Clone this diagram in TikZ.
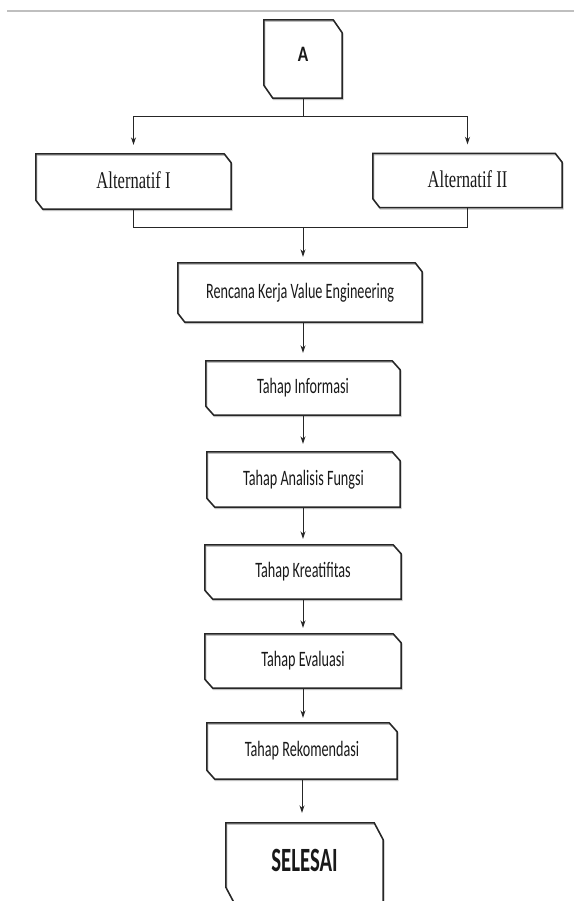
\documentclass[tikz,border=0pt]{standalone}
\usepackage{graphicx}
\usepackage{fontspec}
\setmainfont{Liberation Serif}
\newfontfamily\carlito{Carlito}
\usetikzlibrary{arrows.meta}
% outline of a box with the top-right and bottom-left corners snipped
\newcommand\snipshape[4]{%
  \draw[#4] (#1.north west) -- ([xshift=-#2]#1.north east) -- ([yshift=-#3]#1.north east)
    -- (#1.south east) -- ([xshift=#2]#1.south west) -- ([yshift=#3]#1.south west) -- cycle;}
\newcommand\snipbox[3]{%
  \snipshape{#1}{#2}{#3}{shadowline}%
  \snipshape{#1}{#2}{#3}{outline}}
\begin{document}
\begin{tikzpicture}[x=1pt,y=-1pt,
  box/.style={rectangle, inner sep=0pt, text=black!90},
  stagebox/.style={box, node font=\carlito\fontsize{22}{26}\selectfont},
  altbox/.style={box, node font=\fontsize{24}{28}\selectfont},
  conn/.style={line width=0.9pt, black!85},
  arr/.style={conn, -{Stealth[length=7.5pt,width=5pt]}},
  outline/.style={line width=1.5pt, black!85, line join=miter},
  shadowline/.style={line width=1.4pt, gray!50, transform canvas={xshift=0.8pt,yshift=-1.3pt}},
]
\useasboundingbox (0,0) rectangle (574,901);
\clip (0,0) rectangle (574,901);

\draw[gray!50, line width=1.5pt] (7,11) -- (574,11);

% nodes
\node[box, minimum width=78pt, minimum height=78pt, node font=\carlito\bfseries\fontsize{22}{24}\selectfont]
  (A) at (303,59) {\raisebox{10pt}{\scalebox{0.78}[1]{A}}};
\node[altbox, minimum width=195pt, minimum height=55pt] (alt1) at (133.5,181.5)
  {\raisebox{3pt}{\scalebox{0.69}[1]{Alternatif I}}};
\node[altbox, minimum width=189pt, minimum height=54pt] (alt2) at (467.5,180.5)
  {\raisebox{3pt}{\scalebox{0.69}[1]{Alternatif II}}};
\node[stagebox, minimum width=244pt, minimum height=59pt] (ren) at (300,292.5)
  {\raisebox{2pt}{\scalebox{0.645}[1]{Rencana Kerja Value Engineering}}};
\node[stagebox, minimum width=194pt, minimum height=54pt] (inf) at (303,388)
  {\scalebox{0.645}[1]{Tahap Informasi}};
\node[stagebox, minimum width=193pt, minimum height=55pt] (ana) at (303.5,479.5)
  {\scalebox{0.645}[1]{Tahap Analisis Fungsi}};
\node[stagebox, minimum width=196pt, minimum height=54pt] (kre) at (303,572)
  {\scalebox{0.645}[1]{Tahap Kreatifitas}};
\node[stagebox, minimum width=196pt, minimum height=54pt] (eva) at (303,661)
  {\scalebox{0.645}[1]{Tahap Evaluasi}};
\node[stagebox, minimum width=190pt, minimum height=56pt] (rek) at (302,751)
  {\scalebox{0.645}[1]{Tahap Rekomendasi}};
\node[box, minimum width=157pt, minimum height=81pt, node font=\carlito\bfseries\fontsize{34}{38}\selectfont]
  (sel) at (304.5,863.5) {\raisebox{6pt}{\scalebox{0.61}[1]{SELESAI}}};

% outlines
\snipbox{A}{9pt}{13pt}
\snipbox{alt1}{7pt}{9pt}
\snipbox{alt2}{7pt}{9pt}
\snipbox{ren}{7pt}{9pt}
\snipbox{inf}{8pt}{9pt}
\snipbox{ana}{8pt}{9pt}
\snipbox{kre}{8pt}{9pt}
\snipbox{eva}{8pt}{9pt}
\snipbox{rek}{8pt}{9pt}
\snipbox{sel}{9pt}{17pt}

% connectors
\coordinate (j1) at (303,116);
\coordinate (j2) at (303,227);
\draw[conn] (A.south) -- (j1);
\draw[arr] (j1) -| ([yshift=9pt]alt1.north);
\draw[arr] (j1) -| ([yshift=9pt]alt2.north);
\draw[conn] (alt1.south) |- (j2);
\draw[conn] (alt2.south) |- (j2);
\draw[arr] (j2) -- ([yshift=6pt]j2 |- ren.north);
\draw[arr] (inf.north |- ren.south) -- ([yshift=8pt]inf.north);
\draw[arr] (inf.south) -- ([yshift=8pt]inf.south |- ana.north);
\draw[arr] (kre.north |- ana.south) -- ([yshift=6pt]kre.north);
\draw[arr] (kre.south) -- ([yshift=6pt]eva.north);
\draw[arr] (eva.south) -- ([yshift=5pt]eva.south |- rek.north);
\draw[arr] (rek.south) -- ([yshift=10pt]rek.south |- sel.north);
\end{tikzpicture}
\end{document}
